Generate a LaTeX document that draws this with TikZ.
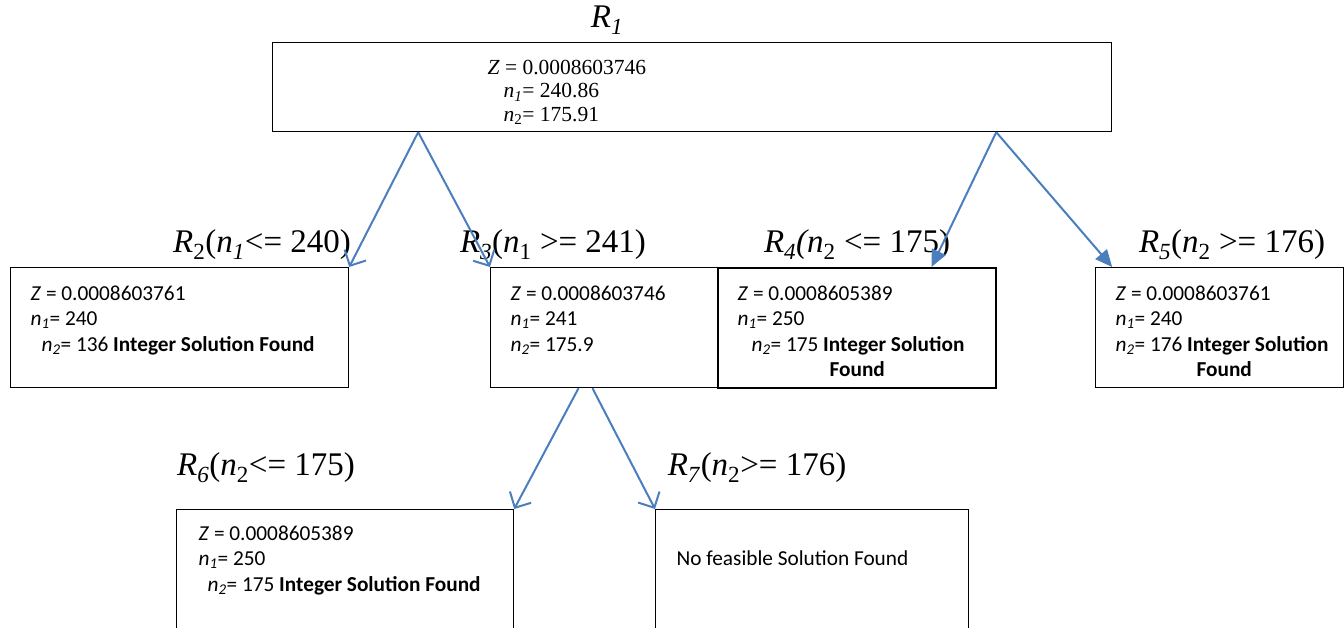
\documentclass[tikz,border=0pt]{standalone}
\usepackage{fontspec}
\setmainfont{Liberation Serif}
\newfontfamily\calib{Carlito}
\usetikzlibrary{arrows.meta,positioning,calc}
\definecolor{arrowblue}{RGB}{74,126,189}
\tikzset{every picture/.style={line width=1.2pt}}
\tikzset{
  box/.style={draw,inner sep=0pt,anchor=north west},
  info/.style={align=left,inner sep=0pt,font=\calib\fontsize{21.3}{25.5}\selectfont},
  rlabel/.style={inner sep=0pt,font=\fontsize{33}{36}\selectfont},
  openarr/.style={arrowblue,line width=2pt,-{Straight Barb[length=12pt,width=24pt]}},
  fillarr/.style={arrowblue,line width=2pt,-{Triangle[length=17pt,width=15pt]}}
}

\begin{document}
\begin{tikzpicture}[x=1pt,y=-1pt]
    \useasboundingbox (0,0) rectangle (1344,628);

    % Root problem R1
    \node[box,minimum width=839pt,minimum height=89pt] (r1) at (272,42) {};
    \node[rlabel] (l1) at (607,20) {\textit{R}\textsubscript{\textit{1}}};
    \node[info,font=\fontsize{21.5}{23.5}\selectfont,below right=17.5pt and 215pt of r1.north west] (t1)
        {\textit{Z} = 0.0008603746\\
         \hspace{16pt}\textit{n}\textsubscript{\textit{1}}= 240.86\\
         \hspace{16pt}\textit{n}\textsubscript{2}= 175.91};

    % First branching on n1 and n2
    \node[box,minimum width=338pt,minimum height=120pt] (r2) at (10,267) {};
    \node[rlabel] (l2) at (262,245) {\textit{R}\textsubscript{2}(\textit{n}\textsubscript{\textit{1}}<= 240)};
    \node[info,below right=18pt and 20pt of r2.north west] (t2)
        {\textit{Z} = 0.0008603761\\
         \textit{n}\textsubscript{\textit{1}}= 240\\
         \hspace{11pt}\textit{n}\textsubscript{\textit{2}}= 136 \textbf{Integer Solution Found}};

    \node[box,minimum width=227pt,minimum height=120pt] (r3) at (490,267) {};
    \node[rlabel] (l3) at (553,245) {\textit{R}\textsubscript{\textit{3}}(\textit{n}\textsubscript{1} >= 241)};
    \node[info,below right=18pt and 20pt of r3.north west] (t3)
        {\textit{Z} = 0.0008603746\\
         \textit{n}\textsubscript{\textit{1}}= 241\\
         \textit{n}\textsubscript{\textit{2}}= 175.9};

    \node[box,line width=2pt,minimum width=278pt,minimum height=120pt] (r4) at (717,267) {};
    \node[rlabel] (l4) at (857,245) {\textit{R}\textsubscript{\textit{4}}\textit{(n}\textsubscript{2} <= 175)};
    \node[info,below right=18pt and 20pt of r4.north west] (t4)
        {\textit{Z} = 0.0008605389\\
         \textit{n}\textsubscript{\textit{1}}= 250\\
         \hspace{14pt}\textit{n}\textsubscript{\textit{2}}= 175 \textbf{Integer Solution}\\
         \hspace{92pt}\textbf{Found}};

    \node[box,minimum width=248pt,minimum height=120pt] (r5) at (1095,267) {};
    \node[rlabel] (l5) at (1232,245) {\textit{R}\textsubscript{\textit{5}}(\textit{n}\textsubscript{2} >= 176)};
    \node[info,below right=18pt and 20pt of r5.north west] (t5)
        {\textit{Z} = 0.0008603761\\
         \textit{n}\textsubscript{\textit{1}}= 240\\
         \textit{n}\textsubscript{\textit{2}}= 176 \textbf{Integer Solution}\\
         \hspace{81pt}\textbf{Found}};

    % Second branching of R3 on n2
    \node[box,minimum width=337pt,minimum height=140pt] (r6) at (176,509) {};
    \node[rlabel] (l6) at (266,468) {\textit{R}\textsubscript{\textit{6}}(\textit{n}\textsubscript{2}<= 175)};
    \node[info,below right=16pt and 22pt of r6.north west] (t6)
        {\textit{Z} = 0.0008605389\\
         \textit{n}\textsubscript{\textit{1}}= 250\\
         \hspace{9pt}\textit{n}\textsubscript{\textit{2}}= 175 \textbf{Integer Solution Found}};

    \node[box,minimum width=313pt,minimum height=140pt] (r7) at (655,509) {};
    \node[rlabel] (l7) at (757,468) {\textit{R}\textsubscript{\textit{7}}(\textit{n}\textsubscript{2}>= 176)};
    \node[info,below right=41pt and 21pt of r7.north west] (t7) {No feasible Solution Found};

    % Branch arrows
    \draw[openarr] ($(r1.south west)!0.174!(r1.south east)$) -- (r2.north east);
    \draw[openarr] ($(r1.south west)!0.174!(r1.south east)$) -- (r3.north west);
    \draw[fillarr] ($(r1.south west)!0.862!(r1.south east)$) -- ($(r4.north west)!0.766!(r4.north east)$);
    \draw[fillarr] ($(r1.south west)!0.862!(r1.south east)$) -- ($(r5.north west)!0.069!(r5.north east)$);
    \draw[openarr] ($(r3.south west)!0.388!(r3.south east)$) -- (r6.north east);
    \draw[openarr] ($(r3.south west)!0.449!(r3.south east)$) -- (r7.north west);
\end{tikzpicture}
\end{document}
